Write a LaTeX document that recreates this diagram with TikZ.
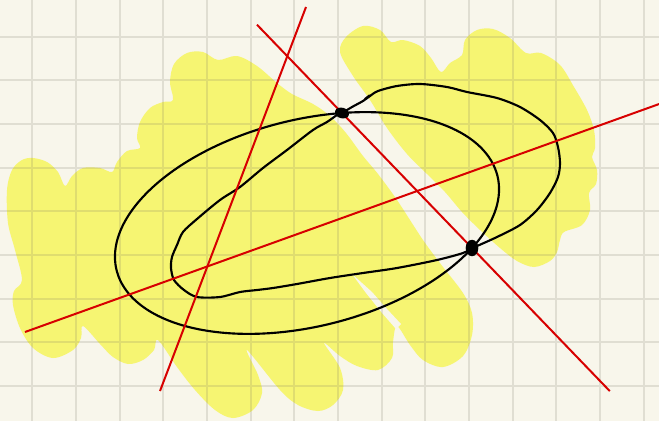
\documentclass[tikz,border=0pt]{standalone}
\usetikzlibrary{calc}
\definecolor{bg}{RGB}{248,246,235}
\definecolor{hl}{RGB}{246,245,114}
\definecolor{gridc}{RGB}{120,115,100}
\definecolor{redl}{RGB}{215,0,0}
\begin{document}
\begin{tikzpicture}[x=0.75pt,y=-0.75pt,
  gridline/.style={draw=gridc, draw opacity=0.18, line width=1.5pt},
  ink/.style={draw=black, line width=1.6pt, line cap=round, line join=round},
  redline/.style={draw=redl, line width=1.5pt},
  hlfill/.style={fill=hl},
  gapfill/.style={fill=bg},
  dotfill/.style={fill=black}]
\useasboundingbox (0,0) rectangle (659,421);
\fill[bg] (0,0) rectangle (659,421);
% highlighter regions
\fill[hlfill] plot[smooth cycle, tension=0.55] coordinates {
 (8,223) (7,190) (12,170) (22,160) (33,158) (47,162) (58,172) (65,186)
 (72,176) (83,168) (100,168) (112,172) (117,162) (127,151) (140,148)
 (137,138) (140,122) (150,108) (163,102) (173,100) (170,82) (174,64)
 (187,53) (203,52) (218,60) (237,56) (257,66) (277,83) (292,94) (313,104)
 (330,116) (346,133) (363,156) (378,174) (397,200) (423,240) (443,267)
 (463,293) (472,313) (472,335) (463,356) (443,367) (423,360) (410,345)
 (397,326) (393,342) (392,358) (378,370) (357,366) (340,356) (324,343)
 (340,368) (343,390) (333,405) (318,411) (298,405) (280,390) (247,350)
 (258,375) (262,393) (253,410) (233,418) (215,410) (195,390) (177,367)
 (158,340) (154,350) (143,360) (128,364) (113,357) (100,344) (83,326)
 (81,338) (73,350) (53,358) (33,348) (20,328) (13,305) (14,291) (22,280)
 (15,250)};
\fill[hlfill] plot[smooth cycle, tension=0.55] coordinates {
 (340,52) (346,37) (363,26) (380,30) (391,42) (403,40) (420,46) (431,58)
 (441,72) (450,63) (462,55) (465,40) (477,30) (493,29) (510,38) (526,53)
 (541,53) (560,65) (574,87) (587,110) (594,130) (595,148) (592,157)
 (597,170) (596,184) (589,193) (590,210) (582,225) (564,232) (560,240)
 (557,252) (550,261) (534,267) (517,261) (500,248) (480,230) (462,212)
 (445,192) (427,174) (407,154) (387,128) (370,100) (353,76)};
\fill[gapfill] (352,274) -- (366,293) -- (382,313) -- (396,329) -- (401,324)
 -- (387,309) -- (372,292) -- cycle;
% grid
\draw[gridline]
 \foreach \i in {0,...,14} {({32.3+43.67*\i},0) -- ({32.3+43.67*\i},421)}
 \foreach \j in {0,...,8} {(0,{36.7+43.67*\j}) -- (659,{36.7+43.67*\j})};
% points
\coordinate (P) at (342,113);
\coordinate (Q) at (472,248);
\coordinate (A1) at (306,7);
\coordinate (A2) at (160,391);
\coordinate (B1) at (25,332);
\coordinate (B2) at (660,103.7);
% smooth ellipse
\draw[ink] plot[domain=0:360, samples=160, smooth]
 ({307+190.45*cos(\x)-24.84*sin(\x)},{223-47.13*cos(\x)-100.37*sin(\x)}) -- cycle;
% hand-drawn closed curve
\draw[ink] plot[smooth cycle, tension=0.5] coordinates {
 (342,113) (352,107) (363,101) (370,96) (378,91) (397,86) (420,84) (447,87)
 (467,92) (497,98) (520,107) (540,120) (553,133) (558,147) (560,163)
 (558,177) (550,193) (537,210) (520,225) (497,237) (477,246) (472,248)
 (463,253) (437,260) (397,268) (363,273) (330,278) (297,284) (273,288)
 (257,290) (240,292) (220,297) (197,297) (184,290) (174,280) (171,268)
 (172,257) (177,245) (183,232) (197,219) (220,200) (240,187) (263,168)
 (287,150) (313,130) (327,122) (337,115)};
\draw[ink] (365,99) -- (369.5,95.5);
% red lines
\draw[redline] (A1) -- (A2);
\draw[redline] (B1) -- (B2);
\draw[redline] ($(P)!-0.654!(Q)$) -- ($(P)!2.06!(Q)$);
% dots
\fill[dotfill, rotate around={-15:(P)}] (P) ellipse [x radius=7.2, y radius=5.3];
\fill[dotfill] (Q) ellipse [x radius=6.3, y radius=8.2];
\end{tikzpicture}
\end{document}
